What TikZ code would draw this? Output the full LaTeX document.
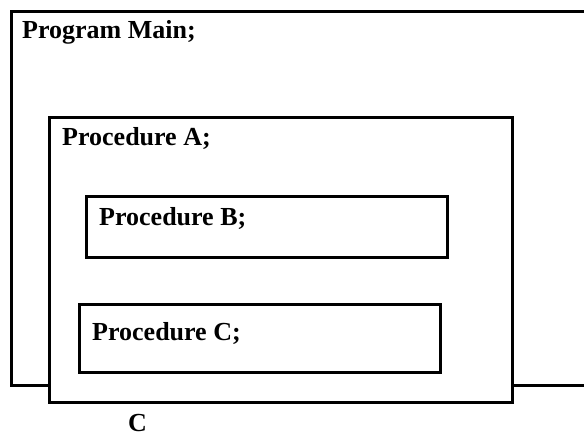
\documentclass[tikz,border=0pt]{standalone}
\usepackage{fontspec}
\setmainfont{Liberation Serif}
\begin{document}
\begin{tikzpicture}[x=1pt,y=-1pt,
  frame/.style={draw=black,line width=3pt,fill=white},
  label/.style={anchor=base west,inner sep=0pt,font=\bfseries\fontsize{26}{30}\selectfont}]
\useasboundingbox (0,0) rectangle (584,437);
\clip (0,0) rectangle (584,437);
% nested scopes
\draw[frame] (11,11) rectangle (600,385);
\draw[frame] (49,117) rectangle (512,402);
\draw[frame] (86,196) rectangle (447,257);
\draw[frame] (79,304) rectangle (440,372);
% labels
\node[label] (main) at (22,38) {Program Main;};
\node[label] (pa) at (62,145) {Procedure A;};
\node[label] (pb) at (99,225) {Procedure B;};
\node[label] (pc) at (92,340) {Procedure C;};
\node[label] (c) at (128,431) {C};
\end{tikzpicture}
\end{document}
